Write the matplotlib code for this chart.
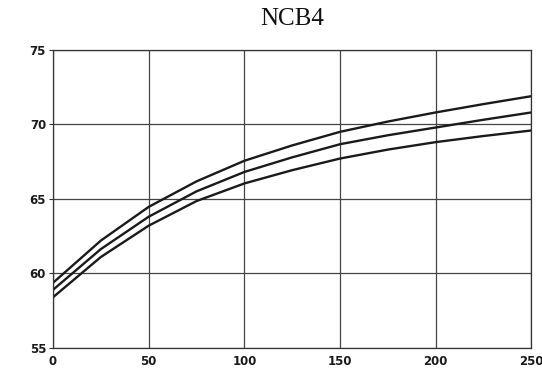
import matplotlib.pyplot as plt
import numpy as np

# values
x = [0, 25, 50, 75, 100, 125, 150, 175, 200, 225, 250]
upper = [59.37, 62.2, 64.46, 66.17, 67.55, 68.58, 69.49, 70.18, 70.79, 71.35, 71.88]
middle = [58.9, 61.63, 63.8, 65.5, 66.8, 67.78, 68.66, 69.26, 69.78, 70.3, 70.79]
lower = [58.4, 61.1, 63.2, 64.85, 66.03, 66.92, 67.7, 68.3, 68.8, 69.21, 69.58]
xticks = [0, 50, 100, 150, 200, 250]
yticks = [55, 60, 65, 70, 75]

fig = plt.figure(figsize=(5.42, 3.73), dpi=100)
ax = fig.add_axes([0.0978, 0.067, 0.8828, 0.80])

for y in (upper, middle, lower):
    ax.plot(x, y, color='#1a1a1a', lw=1.7, solid_joinstyle='round')

ax.set_xlim(0, 250)
ax.set_ylim(55, 75)
ax.set_xticks(xticks)
ax.set_yticks(yticks)
ax.grid(True, color='#444444', lw=0.9)
ax.set_axisbelow(True)
for s in ax.spines.values():
    s.set_color('#333333')
    s.set_linewidth(0.9)

ax.tick_params(axis='y', length=3, width=0.8, color='#333333', pad=2)
ax.tick_params(axis='x', length=0, pad=5)
for lab in ax.get_xticklabels() + ax.get_yticklabels():
    lab.set_fontfamily('DejaVu Sans')
    lab.set_fontweight('bold')
    lab.set_fontsize(8.5)
    lab.set_color('#1a1a1a')

fig.text(0.539, 0.948, 'NCB4', ha='center', va='center',
         family='Liberation Serif', fontsize=18, color='#111111')

fig.savefig('out.png', dpi=100)
